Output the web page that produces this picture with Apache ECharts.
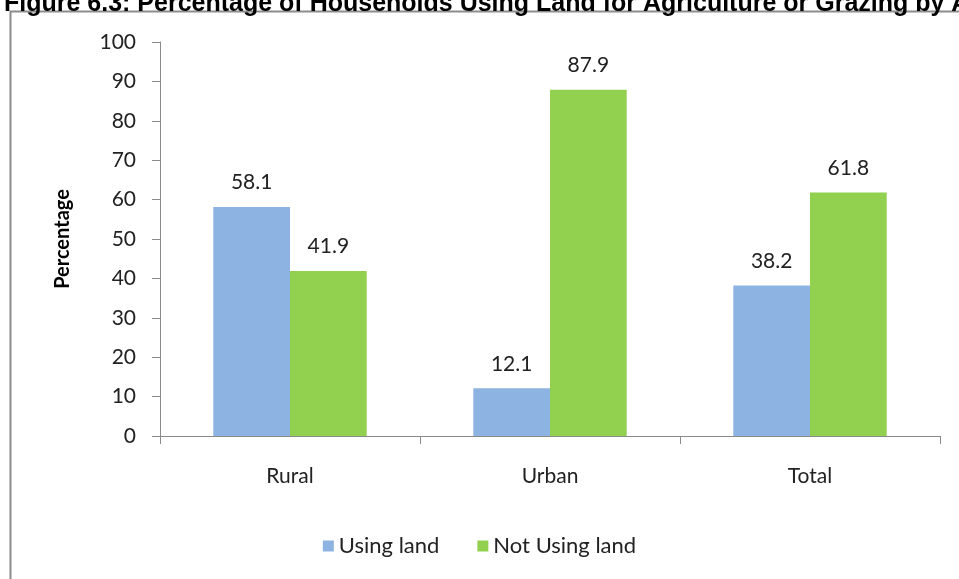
<!DOCTYPE html>
<html><head><meta charset="utf-8">
<script src="https://cdn.jsdelivr.net/npm/echarts@6/dist/echarts.min.js"></script>
<style>html,body{margin:0;padding:0;background:#fff;}#c{width:959px;height:579px;}</style>
</head><body><div id="c"></div>
<script>
const titleText = "Figure 6.3: Percentage of Households Using Land for Agriculture or Grazing by Area";
const categories = ["Rural", "Urban", "Total"];
const usingLand = [58.1, 12.1, 38.2];
const notUsingLand = [41.9, 87.9, 61.8];
const seriesNames = ["Using land", "Not Using land"];
const yAxisName = "Percentage";

const chart = echarts.init(document.getElementById('c'), null, {renderer: 'canvas'});
const lblFont = 'Lato, "Open Sans", sans-serif';
chart.setOption({
  animation: false,
  backgroundColor: '#fff',
  title: {
    text: titleText, left: -1, top: -13,
    textStyle: {fontFamily: 'Liberation Sans, Arial', fontWeight: 'bold', fontSize: 25, color: '#000'}
  },
  graphic: [{
    type: 'rect', shape: {x: 10.5, y: 11.5, width: 960, height: 600},
    style: {fill: 'none', stroke: '#8c8c8c', lineWidth: 2}, silent: true, z: -1
  }],
  legend: {
    bottom: 17, left: 'center', itemWidth: 11, itemHeight: 11, itemGap: 38,
    icon: 'rect',
    textStyle: {fontFamily: lblFont, fontSize: 22, color: '#222'},
    data: seriesNames
  },
  grid: {left: 160, right: 19, top: 42, bottom: 143, containLabel: false},
  xAxis: {
    type: 'category', data: categories,
    axisLine: {lineStyle: {color: '#8a8a8a', width: 1}},
    axisTick: {show: true, length: 8, lineStyle: {color: '#8a8a8a'}},
    axisLabel: {fontFamily: lblFont, fontSize: 21, color: '#222', margin: 30}
  },
  yAxis: {
    type: 'value', min: 0, max: 100, interval: 10,
    name: yAxisName, nameLocation: 'middle', nameGap: 87, nameRotate: 90,
    nameTextStyle: {fontFamily: lblFont, fontWeight: 'bold', fontSize: 20, color: '#000'},
    axisLine: {show: true, lineStyle: {color: '#8a8a8a'}},
    axisTick: {show: true, length: 8, lineStyle: {color: '#8a8a8a'}},
    splitLine: {show: false},
    axisLabel: {fontFamily: lblFont, fontSize: 21, color: '#222', margin: 24}
  },
  series: [
    {name: seriesNames[0], type: 'bar', data: usingLand, barGap: '0%', barCategoryGap: '41%',
     itemStyle: {color: '#8db3e2'},
     label: {show: true, position: 'top', distance: 14, formatter: p => p.value.toFixed(1), fontFamily: lblFont, fontSize: 21, color: '#222'}},
    {name: seriesNames[1], type: 'bar', data: notUsingLand, barGap: '0%', barCategoryGap: '41%',
     itemStyle: {color: '#92d050'},
     label: {show: true, position: 'top', distance: 14, formatter: p => p.value.toFixed(1), fontFamily: lblFont, fontSize: 21, color: '#222'}}
  ]
});
</script></body></html>
